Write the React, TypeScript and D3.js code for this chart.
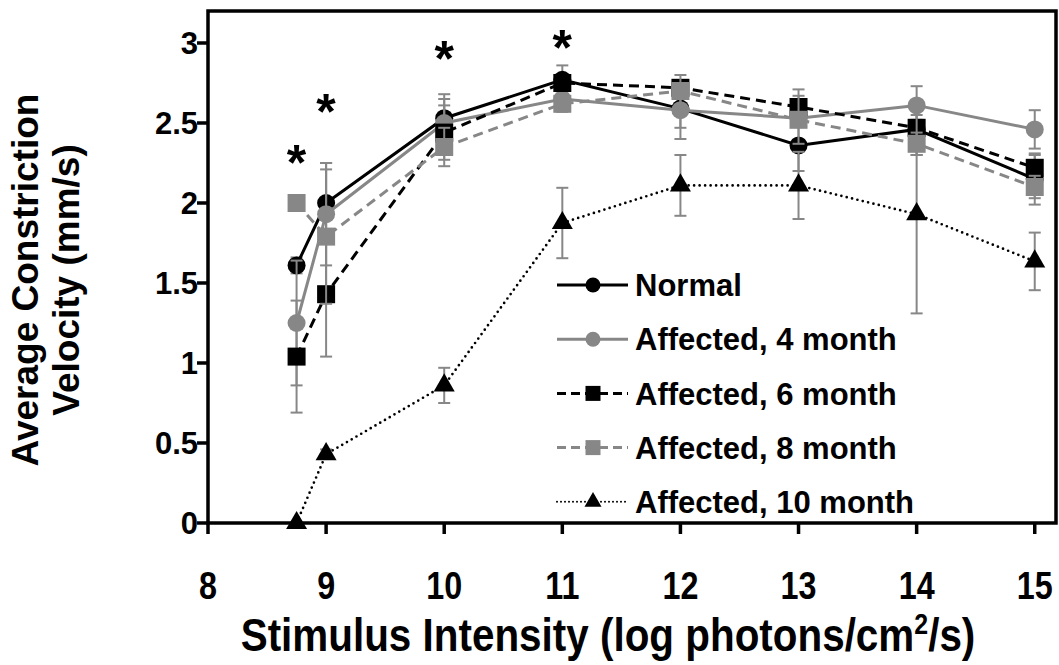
import React from 'react';
import * as d3 from 'd3';

// stimulus intensities (log photons/cm2/s)
const xVals = [8.75, 9, 10, 11, 12, 13, 14, 15];

const normal = [1.61, 2.0, 2.53, 2.77, 2.59, 2.36, 2.46, 2.15];
const normalErr = [0.05, 0.25, 0.15, 0.09, 0.12, 0.16, 0.16, 0.16];
const aff4 = [1.25, 1.93, 2.5, 2.65, 2.58, 2.53, 2.61, 2.46];
const aff4Err = [0.39, 0.32, 0.15, 0.05, 0.18, 0.05, 0.12, 0.12];
const aff6 = [1.04, 1.43, 2.44, 2.75, 2.72, 2.6, 2.47, 2.22];
const aff6Err = [0.35, 0.39, 0.17, 0.05, 0.04, 0.11, 0.05, 0.08];
const aff8 = [2.0, 1.79, 2.35, 2.62, 2.7, 2.52, 2.37, 2.1];
const aff8Err = [0.05, 0.42, 0.12, 0.05, 0.1, 0.15, 0.07, 0.07];
const aff10 = [0.0, 0.43, 0.86, 1.875, 2.11, 2.11, 1.93, 1.635];
const aff10Err = [0, 0.03, 0.11, 0.22, 0.19, 0.21, 0.62, 0.18];

const xTicks = [8, 9, 10, 11, 12, 13, 14, 15];
const yTicks = [0, 0.5, 1, 1.5, 2, 2.5, 3];

// significance asterisks
const starX = [8.75, 9, 10, 11];
const starY = [2.32, 2.635, 2.97, 3.04];

const GRAY = '#878787';
const FONT = '"Liberation Sans", Arial, sans-serif';

const series = [
  { name: 'Normal', vals: normal, err: normalErr, color: '#000', dash: null, shape: 'circle' },
  { name: 'Affected, 4 month', vals: aff4, err: aff4Err, color: GRAY, dash: null, shape: 'circle' },
  { name: 'Affected, 6 month', vals: aff6, err: aff6Err, color: '#000', dash: '10,6', shape: 'square' },
  { name: 'Affected, 8 month', vals: aff8, err: aff8Err, color: GRAY, dash: '10,6', shape: 'square' },
  { name: 'Affected, 10 month', vals: aff10, err: aff10Err, color: '#000', dash: '0,5.5', shape: 'triangle' },
];

const W = 1059, H = 665;
const left = 208, right = 1056, top = 11, bottom = 523;

function marker(shape: string, x: number, y: number, color: string, s: number, key: any) {
  if (shape === 'circle') return <circle key={key} cx={x} cy={y} r={s / 2} fill={color} />;
  if (shape === 'square') return <rect key={key} x={x - s / 2} y={y - s / 2} width={s} height={s} fill={color} />;
  const p = d3.symbol(d3.symbolTriangle, (s * s * Math.sqrt(3)) / 4)();
  return <path key={key} d={p || ''} transform={`translate(${x},${y})`} fill={color} />;
}

export default function App() {
  const x = d3.scaleLinear().domain([8, 15.18]).range([left, right]);
  const y = d3.scaleLinear().domain([0, 3.2]).range([bottom, top]);
  const line = d3.line<number>().x((_, i) => x(xVals[i])).y(d => y(d));

  return (
    <svg width={W} height={H} style={{ position: 'absolute', left: 0, top: 0, background: '#fff' }} fontFamily={FONT}>
      {/* frame */}
      <rect x={left} y={top} width={right - left} height={bottom - top} fill="none" stroke="#000" strokeWidth={3.5} />

      {/* y axis */}
      {yTicks.map(t => (
        <g key={'y' + t}>
          <line x1={left - 11} x2={left} y1={y(t)} y2={y(t)} stroke="#000" strokeWidth={3.5} />
          <text x={left - 10} y={y(t)} dy="0.36em" textAnchor="end" fontSize={31} fontWeight="bold">{String(t)}</text>
        </g>
      ))}
      {/* x axis */}
      {xTicks.map(t => (
        <g key={'x' + t}>
          <line x1={x(t)} x2={x(t)} y1={bottom} y2={bottom + 11} stroke="#000" strokeWidth={3.5} />
          <text transform={`translate(${x(t)},599) scale(0.85,1)`} textAnchor="middle" fontSize={38} fontWeight="bold">{String(t)}</text>
        </g>
      ))}

      {/* series */}
      {series.map((s, si) => (
        <g key={s.name}>
          {s.vals.map((v, i) => s.err[i] > 0 && (
            <g key={i} stroke={GRAY} strokeWidth={2}>
              <line x1={x(xVals[i])} x2={x(xVals[i])} y1={y(v - s.err[i])} y2={y(v + s.err[i])} />
              <line x1={x(xVals[i]) - 6} x2={x(xVals[i]) + 6} y1={y(v - s.err[i])} y2={y(v - s.err[i])} />
              <line x1={x(xVals[i]) - 6} x2={x(xVals[i]) + 6} y1={y(v + s.err[i])} y2={y(v + s.err[i])} />
            </g>
          ))}
          <path d={line(s.vals) || ''} fill="none" stroke={s.color}
            strokeWidth={si === 4 ? 2.7 : 3}
            strokeDasharray={s.dash || undefined}
            strokeLinecap={si === 4 ? 'round' : 'butt'} />
          {s.vals.map((v, i) => marker(s.shape, x(xVals[i]), y(v), s.color, s.shape === 'triangle' ? 21 : 18, i))}
        </g>
      ))}

      {/* asterisks */}
      {starX.map((sx, i) => (
        <text key={'s' + i} x={x(sx)} y={y(starY[i]) + 28} textAnchor="middle" fontSize={50} fontWeight="bold">*</text>
      ))}

      {/* legend */}
      {series.map((s, i) => {
        const cy = 285 + i * 54.2;
        return (
          <g key={'l' + i}>
            <line x1={557} x2={628} y1={cy} y2={cy} stroke={s.color} strokeWidth={i === 4 ? 2 : 3}
              strokeDasharray={i === 4 ? '0,4' : s.dash ? '9,5' : undefined}
              strokeLinecap={i === 4 ? 'round' : 'butt'} />
            {marker(s.shape, 593, cy, s.color, s.shape === 'triangle' ? 17 : 15, 'm')}
            <text x={635} y={cy} dy="0.36em" fontSize={31} fontWeight="bold">{s.name}</text>
          </g>
        );
      })}

      {/* axis titles */}
      <text transform="translate(608,651) scale(0.86,1)" textAnchor="middle" fontSize={47} fontWeight="bold">
        Stimulus Intensity (log photons/cm<tspan dy={-17} fontSize={29}>2</tspan><tspan dy={17}>/s)</tspan>
      </text>
      <g transform="translate(0,280) rotate(-90)">
        <text x={0} y={38} textAnchor="middle" fontSize={37} fontWeight="bold">Average Constriction</text>
        <text x={0} y={79} textAnchor="middle" fontSize={37} fontWeight="bold">Velocity (mm/s)</text>
      </g>
    </svg>
  );
}
